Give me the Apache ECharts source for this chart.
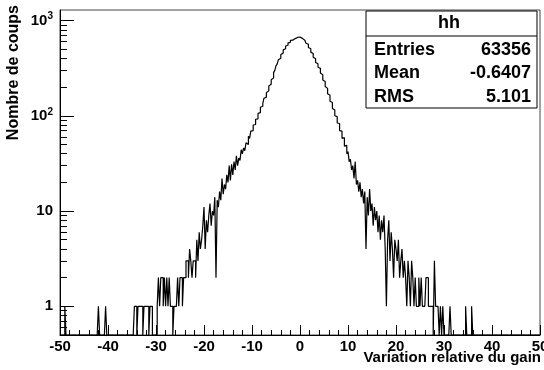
<!DOCTYPE html>
<html>
<head>
<meta charset="utf-8">
<script src="https://cdn.jsdelivr.net/npm/echarts@6/dist/echarts.min.js"></script>
<style>
html, body { margin: 0; padding: 0; background: #fff; }
#histChart { width: 544px; height: 370px; }
</style>
</head>
<body>
<div id="histChart"></div>
<script>
// histogram "hh": bins of 0.25 from -50 to 50
var binStart = -50;
var binWidth = 0.25;

// -50 .. -20
var leftTail = [
    0, 0, 0, 0, 1, 0, 0, 0, 0, 0,
    0, 0, 0, 0, 0, 0, 0, 0, 0, 0,
    0, 0, 0, 0, 0, 0, 0, 0, 0, 0,
    0, 0, 1, 0, 0, 0, 0, 0, 1, 0,
    0, 0, 0, 0, 0, 0, 0, 0, 0, 0,
    0, 0, 0, 0, 0, 0, 0, 0, 0, 0,
    0, 0, 1, 1, 0, 1, 1, 1, 1, 0,
    1, 1, 1, 1, 0, 1, 1, 0, 0, 0,
    0, 1, 2, 1, 2, 2, 1, 2, 1, 2,
    1, 2, 1, 1, 0, 1, 1, 1, 2, 1,
    2, 2, 1, 2, 2, 3, 3, 2, 4, 3,
    2, 3, 3, 2, 5, 3, 6, 4, 5, 7
];

// -20 .. 20
var coreCounts = [
    11, 4, 8, 6, 9, 12, 7, 10, 9, 14,
    2, 13, 11, 16, 13, 22, 15, 19, 17, 24,
    20, 30, 21, 31, 24, 33, 27, 38, 30, 36,
    34, 44, 40, 46, 43, 52, 50, 61, 58, 69,
    70, 80, 81, 92, 93, 106, 108, 123, 126, 135,
    153, 157, 175, 183, 205, 214, 239, 250, 284, 300,
    334, 351, 388, 403, 441, 455, 492, 505, 540, 551,
    583, 590, 620, 622, 648, 646, 671, 665, 688, 672,
    678, 650, 652, 622, 615, 578, 563, 522, 506, 466,
    450, 411, 396, 362, 352, 323, 315, 281, 270, 238,
    229, 203, 194, 170, 164, 142, 138, 119, 115, 100,
    98, 84, 83, 70, 69, 58, 59, 48, 49, 40,
    42, 33, 35, 27, 30, 22, 33, 19, 21, 16,
    20, 14, 17, 12, 16, 4, 14, 9, 17, 10,
    12, 7, 11, 8, 10, 6, 9, 5, 8, 6,
    9, 4, 1, 5, 8, 3, 6, 4, 2, 5
];

// 20 .. 50
var rightTail = [
    4, 3, 5, 2, 3, 4, 2, 3, 2, 1,
    3, 2, 1, 3, 2, 1, 2, 1, 1, 2,
    1, 2, 1, 1, 1, 2, 2, 1, 1, 1,
    1, 0, 3, 1, 1, 1, 0, 1, 0, 1,
    0, 0, 0, 0, 0, 1, 0, 0, 0, 0,
    0, 0, 0, 0, 0, 0, 0, 0, 1, 0,
    0, 0, 0, 1, 0, 0, 0, 0, 0, 0,
    0, 0, 0, 0, 0, 0, 0, 0, 0, 0,
    0, 0, 0, 0, 0, 0, 0, 0, 0, 0,
    0, 0, 0, 0, 0, 0, 0, 0, 0, 0,
    0, 0, 0, 0, 0, 0, 0, 0, 0, 0,
    0, 0, 0, 0, 0, 0, 0, 0, 0, 0
];

var yMajorTicks = [1, 10, 100, 1000];
var yMinorTicks = [0.6, 0.7, 0.8, 0.9, 2, 3, 4, 5, 6, 7, 8, 9,
    20, 30, 40, 50, 60, 70, 80, 90, 200, 300, 400, 500, 600, 700, 800, 900];
var statNames = ['Entries', 'Mean', 'RMS'];
var statValues = ['63356', '-0.6407', '5.101'];

var yMin = 0.5, yMax = 1290;
var font = 'Liberation Sans, Arial, sans-serif';

// step outline, empty bins sit on the bottom of the log axis
var counts = leftTail.concat(coreCounts, rightTail);
var stepData = counts.map(function (c, i) {
    return [binStart + i * binWidth, Math.max(c, yMin)];
});
stepData.push([binStart + counts.length * binWidth, Math.max(counts[counts.length - 1], yMin)]);

var statTexts = [];
statNames.forEach(function (name, i) {
    statTexts.push({
        type: 'text', left: 374, top: 41 + i * 23.5, z: 11,
        style: { text: name, font: 'bold 18px ' + font, fill: '#000' }
    });
    statTexts.push({
        type: 'text', right: 13, top: 41 + i * 23.5, z: 11,
        style: { text: statValues[i], font: 'bold 18px ' + font, fill: '#000', align: 'right' }
    });
});

var histOption = {
    animation: false,
    grid: {
        left: 60, right: 4, top: 10, bottom: 35,
        containLabel: false, outerBoundsMode: 'none',
        show: true, borderColor: '#444', borderWidth: 1
    },
    xAxis: {
        type: 'value', min: -50, max: 50, interval: 10,
        axisLine: { onZero: false, lineStyle: { color: '#000' } },
        axisTick: { inside: true, length: 10, lineStyle: { color: '#000' } },
        minorTick: { show: true, splitNumber: 5, length: 5, lineStyle: { color: '#000' } },
        splitLine: { show: false },
        axisLabel: { color: '#000', fontFamily: font, fontWeight: 'bold', fontSize: 15, margin: 4 }
    },
    yAxis: [{
        type: 'log', min: yMin, max: yMax, position: 'left',
        axisLine: { show: true, onZero: false, lineStyle: { color: '#000' } },
        axisTick: { show: true, inside: true, length: 14, customValues: yMajorTicks, lineStyle: { color: '#000' } },
        splitLine: { show: false },
        axisLabel: {
            customValues: yMajorTicks, margin: 7, color: '#000',
            fontFamily: font, fontWeight: 'bold', fontSize: 15,
            formatter: function (v) {
                var e = Math.round(Math.log10(v));
                if (e < 2) return String(Math.round(v));
                return '{b|10}{s|' + e + '}';
            },
            rich: {
                b: { fontFamily: font, fontWeight: 'bold', fontSize: 15, color: '#000' },
                s: { fontFamily: font, fontWeight: 'bold', fontSize: 10, color: '#000', padding: [0, 0, 8, 0] }
            }
        }
    }, {
        type: 'log', min: yMin, max: yMax, position: 'left',
        axisLine: { show: false, onZero: false },
        axisTick: { show: true, inside: true, length: 7, customValues: yMinorTicks, lineStyle: { color: '#000' } },
        axisLabel: { show: false },
        splitLine: { show: false }
    }],
    series: [{
        name: 'hh', type: 'line', step: 'end',
        data: stepData, showSymbol: false, clip: true,
        lineStyle: { color: '#000', width: 1.2 }
    }],
    graphic: [
        {
            type: 'text', left: 6, top: 5, rotation: Math.PI / 2,
            style: { text: 'Nombre de coups', font: 'bold 16px ' + font, fill: '#000' }
        },
        {
            type: 'text', right: 3, top: 350,
            style: { text: 'Variation relative du gain', font: 'bold 15px ' + font, fill: '#000' }
        },
        {
            type: 'rect', shape: { x: 366, y: 11, width: 171, height: 97 }, z: 10,
            style: { fill: '#fff', stroke: '#000', lineWidth: 1 }
        },
        {
            type: 'line', shape: { x1: 366, y1: 36, x2: 537, y2: 36 }, z: 11,
            style: { stroke: '#000', lineWidth: 1 }
        },
        {
            type: 'text', left: 438, top: 14, z: 11,
            style: { text: 'hh', font: 'bold 18px ' + font, fill: '#000' }
        }
    ].concat(statTexts)
};

var dom = document.getElementById('histChart');
var histChart = echarts.init(dom);
histChart.setOption(histOption);

window.onresize = histChart.resize;
</script>
</body>
</html>
